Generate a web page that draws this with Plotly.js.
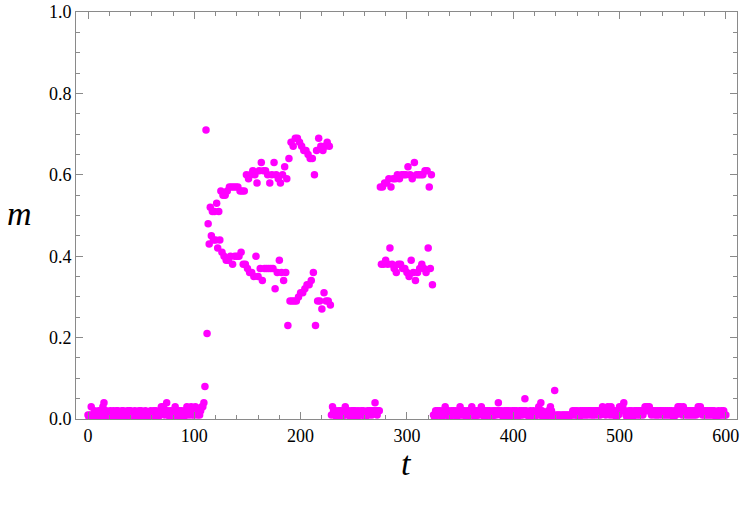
<!DOCTYPE html>
<html>
<head>
<meta charset="utf-8">
<script src="https://cdn.plot.ly/plotly-3.0.1.min.js"></script>
<style>
html,body{margin:0;padding:0;background:#fff;}
#chart{width:744px;height:505px;}
</style>
</head>
<body>
<div id="chart"></div>
<script>
// m(t) for t = 0..109 (quiet phase)
const mLowA = [
  0.01, 0.00, 0.01, 0.03, 0.01, 0.00, 0.02, 0.01, 0.00, 0.01,
  0.02, 0.01, 0.00, 0.02, 0.03, 0.04, 0.01, 0.02, 0.00, 0.01,
  0.01, 0.02, 0.00, 0.01, 0.02, 0.01, 0.00, 0.02, 0.02, 0.01,
  0.00, 0.01, 0.02, 0.02, 0.01, 0.00, 0.01, 0.02, 0.01, 0.02,
  0.02, 0.01, 0.00, 0.01, 0.02, 0.01, 0.01, 0.00, 0.02, 0.01,
  0.02, 0.01, 0.00, 0.01, 0.02, 0.01, 0.00, 0.01, 0.01, 0.02,
  0.01, 0.00, 0.02, 0.01, 0.02, 0.01, 0.00, 0.01, 0.02, 0.03,
  0.02, 0.03, 0.01, 0.02, 0.04, 0.02, 0.01, 0.00, 0.02, 0.01,
  0.02, 0.01, 0.03, 0.02, 0.00, 0.01, 0.02, 0.01, 0.02, 0.01,
  0.00, 0.02, 0.01, 0.03, 0.02, 0.01, 0.02, 0.03, 0.01, 0.02,
  0.01, 0.03, 0.02, 0.01, 0.02, 0.01, 0.02, 0.03, 0.03, 0.04
];
// m(t) for t = 110..228 (period-2 burst)
const mBurstA = [
  0.08, 0.71, 0.21, 0.48, 0.43, 0.52, 0.45, 0.51, 0.44, 0.51,
  0.44, 0.53, 0.42, 0.51, 0.44, 0.56, 0.41, 0.55, 0.40, 0.55,
  0.39, 0.56, 0.39, 0.57, 0.40, 0.57, 0.38, 0.57, 0.40, 0.57,
  0.40, 0.57, 0.40, 0.56, 0.41, 0.56, 0.38, 0.56, 0.38, 0.60,
  0.37, 0.59, 0.36, 0.60, 0.36, 0.61, 0.35, 0.60, 0.40, 0.58,
  0.35, 0.61, 0.37, 0.63, 0.34, 0.61, 0.37, 0.61, 0.37, 0.60,
  0.37, 0.58, 0.37, 0.60, 0.37, 0.63, 0.32, 0.60, 0.36, 0.59,
  0.39, 0.58, 0.36, 0.60, 0.34, 0.62, 0.36, 0.59, 0.23, 0.64,
  0.29, 0.68, 0.29, 0.67, 0.29, 0.69, 0.29, 0.69, 0.30, 0.68,
  0.31, 0.67, 0.31, 0.66, 0.32, 0.66, 0.33, 0.65, 0.33, 0.64,
  0.34, 0.64, 0.36, 0.60, 0.23, 0.66, 0.29, 0.69, 0.29, 0.67,
  0.27, 0.66, 0.31, 0.67, 0.29, 0.68, 0.29, 0.67, 0.28
];
// m(t) for t = 229..274
const mLowB = [
  0.01, 0.03, 0.02, 0.01, 0.02, 0.00, 0.01, 0.02, 0.01, 0.02,
  0.00, 0.01, 0.02, 0.03, 0.02, 0.01, 0.02, 0.01, 0.00, 0.02,
  0.01, 0.02, 0.02, 0.01, 0.00, 0.02, 0.01, 0.01, 0.02, 0.01,
  0.02, 0.01, 0.00, 0.01, 0.02, 0.01, 0.02, 0.02, 0.01, 0.02,
  0.02, 0.04, 0.02, 0.01, 0.02, 0.02
];
// m(t) for t = 275..324
const mBurstB = [
  0.57, 0.38, 0.57, 0.38, 0.58, 0.39, 0.58, 0.38, 0.59, 0.42,
  0.57, 0.38, 0.59, 0.37, 0.59, 0.36, 0.60, 0.38, 0.59, 0.38,
  0.60, 0.37, 0.60, 0.37, 0.60, 0.36, 0.62, 0.35, 0.60, 0.39,
  0.59, 0.36, 0.63, 0.34, 0.60, 0.36, 0.60, 0.37, 0.60, 0.38,
  0.60, 0.37, 0.61, 0.36, 0.61, 0.42, 0.57, 0.37, 0.60, 0.33
];
// m(t) for t = 325..600
const mLowC = [
  0.01, 0.00, 0.02, 0.01, 0.02, 0.01, 0.02, 0.01, 0.00, 0.02,
  0.01, 0.03, 0.02, 0.01, 0.02, 0.00, 0.01, 0.02, 0.01, 0.02,
  0.01, 0.02, 0.00, 0.01, 0.02, 0.03, 0.01, 0.02, 0.01, 0.02,
  0.01, 0.00, 0.02, 0.01, 0.02, 0.01, 0.03, 0.02, 0.01, 0.00,
  0.02, 0.01, 0.02, 0.01, 0.02, 0.03, 0.02, 0.01, 0.00, 0.02,
  0.01, 0.02, 0.01, 0.02, 0.01, 0.00, 0.02, 0.01, 0.02, 0.01,
  0.02, 0.04, 0.02, 0.01, 0.02, 0.01, 0.00, 0.02, 0.01, 0.02,
  0.01, 0.02, 0.00, 0.01, 0.02, 0.01, 0.02, 0.01, 0.02, 0.00,
  0.01, 0.02, 0.01, 0.02, 0.01, 0.02, 0.05, 0.02, 0.01, 0.01,
  0.00, 0.02, 0.01, 0.01, 0.02, 0.00, 0.01, 0.01, 0.02, 0.03,
  0.01, 0.04, 0.02, 0.00, 0.01, 0.01, 0.00, 0.01, 0.02, 0.01,
  0.03, 0.02, 0.01, 0.00, 0.07, 0.01, 0.00, 0.01, 0.01, 0.00,
  0.01, 0.00, 0.01, 0.01, 0.00, 0.01, 0.01, 0.00, 0.01, 0.01,
  0.01, 0.02, 0.01, 0.02, 0.01, 0.02, 0.01, 0.00, 0.02, 0.01,
  0.02, 0.01, 0.02, 0.01, 0.02, 0.01, 0.02, 0.02, 0.01, 0.02,
  0.01, 0.02, 0.01, 0.02, 0.02, 0.01, 0.02, 0.01, 0.02, 0.03,
  0.02, 0.02, 0.01, 0.02, 0.03, 0.02, 0.01, 0.03, 0.02, 0.01,
  0.02, 0.01, 0.00, 0.02, 0.01, 0.03, 0.02, 0.02, 0.03, 0.04,
  0.02, 0.01, 0.00, 0.01, 0.02, 0.01, 0.02, 0.00, 0.01, 0.02,
  0.01, 0.02, 0.01, 0.02, 0.01, 0.02, 0.02, 0.01, 0.02, 0.03,
  0.02, 0.03, 0.02, 0.03, 0.02, 0.01, 0.02, 0.02, 0.01, 0.02,
  0.01, 0.02, 0.01, 0.02, 0.02, 0.01, 0.02, 0.01, 0.02, 0.01,
  0.02, 0.01, 0.02, 0.01, 0.02, 0.01, 0.00, 0.02, 0.01, 0.02,
  0.03, 0.02, 0.03, 0.02, 0.01, 0.03, 0.02, 0.01, 0.02, 0.01,
  0.02, 0.01, 0.02, 0.01, 0.02, 0.01, 0.02, 0.01, 0.02, 0.03,
  0.02, 0.03, 0.02, 0.01, 0.02, 0.01, 0.02, 0.01, 0.02, 0.01,
  0.02, 0.01, 0.02, 0.01, 0.02, 0.01, 0.00, 0.01, 0.02, 0.01,
  0.01, 0.02, 0.01, 0.02, 0.01, 0.01
];
const xTickVals = [0, 100, 200, 300, 400, 500, 600];
const yTickVals = [0.0, 0.2, 0.4, 0.6, 0.8, 1.0];
const yTickText = ["0.0", "0.2", "0.4", "0.6", "0.8", "1.0"];

const mAll = [].concat(mLowA, mBurstA, mLowB, mBurstB, mLowC);
const tAll = mAll.map((_, i) => i); // one sample per time step, t = 0..600

const axisColor = '#8a8a8a';
const serifName = 'Times New Roman';

const layout = {
  width: 744, height: 505,
  margin: {l: 76, r: 7, t: 12, b: 86},
  showlegend: false,
  font: {family: serifName, size: 18, color: 'black'},
  xaxis: {
    range: [-11.3, 610.5], tickvals: xTickVals,
    tickfont: {family: serifName, size: 18, color: 'black'},
    ticks: 'inside', ticklen: 7, tickcolor: axisColor,
    minor: {dtick: 20, ticks: 'inside', ticklen: 4, tickcolor: axisColor, showgrid: false},
    showline: true, linecolor: axisColor, mirror: 'allticks',
    showgrid: false, zeroline: false
  },
  yaxis: {
    range: [0, 1], tickvals: yTickVals, ticktext: yTickText,
    tickfont: {family: serifName, size: 18, color: 'black'},
    ticks: 'inside', ticklen: 7, tickcolor: axisColor,
    minor: {dtick: 0.05, ticks: 'inside', ticklen: 4, tickcolor: axisColor, showgrid: false},
    showline: true, linecolor: axisColor, mirror: 'allticks',
    showgrid: false, zeroline: false
  },
  annotations: [
    {text: '<i>m</i>', xref: 'paper', yref: 'paper', x: -0.085, y: 0.505,
     xanchor: 'center', yanchor: 'middle', showarrow: false,
     font: {family: serifName, size: 34, color: 'black'}},
    {text: '<i>t</i>', xref: 'paper', yref: 'paper', x: 0.5, y: -0.11,
     xanchor: 'center', yanchor: 'middle', showarrow: false,
     font: {family: serifName, size: 34, color: 'black'}}
  ]
};

Plotly.newPlot('chart', [{
  x: tAll, y: mAll, type: 'scatter', mode: 'markers',
  marker: {color: 'rgb(255,0,255)', size: 7.5}
}], layout, {staticPlot: true}).then(function (gd) {
  // make sure every label really uses the serif face
  gd.querySelectorAll('text').forEach(function (el) {
    el.style.fontFamily = serifName;
  });
});
</script>
</body>
</html>
